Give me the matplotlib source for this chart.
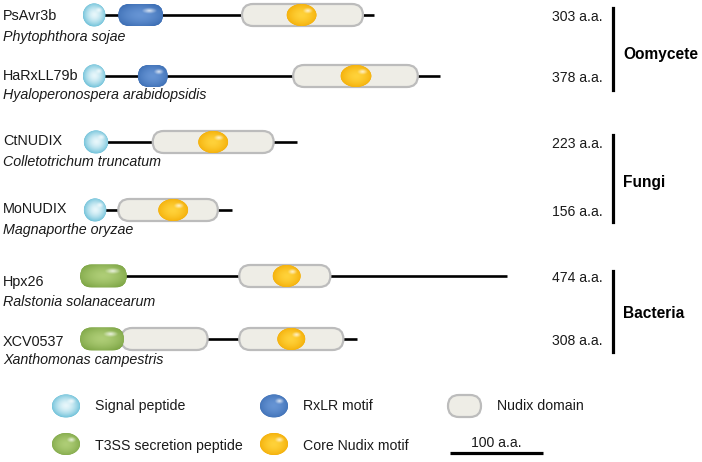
import numpy as np
import matplotlib
matplotlib.use("Agg")
import matplotlib.pyplot as plt
from matplotlib.patches import Ellipse, FancyBboxPatch
from matplotlib.colors import to_rgb

# ---------------- data (a.a. positions) ----------------
proteins = ['PsAvr3b', 'HaRxLL79b', 'CtNUDIX', 'MoNUDIX', 'Hpx26', 'XCV0537']
species = ['Phytophthora sojae', 'Hyaloperonospera arabidopsidis',
           'Colletotrichum truncatum', 'Magnaporthe oryzae',
           'Ralstonia solanacearum', 'Xanthomonas campestris']
length_labels = [303, 378, 223, 156, 474, 308]
drawn_end = [313, 384, 230, 160, 456, 295]
signal_peptide = [(0, 24), (0, 24), (1, 27), (1, 25), None, None]
rxlr_motif = [(38, 86), (59, 91), None, None, None, None]
t3ss_peptide = [None, None, None, None, (-3, 47), (-3, 44)]
nudix_domain = [[(171, 301)], [(226, 360)], [(75, 205)], [(38, 145)],
                [(168, 266)], [(41, 134), (168, 280)]]
core_motif = [(219, 251), (277, 310), (124, 156), (81, 113), (204, 234), (209, 239)]
groups = ['Oomycete', 'Fungi', 'Bacteria']
group_rows = [(0, 1), (2, 3), (4, 5)]
legend_items = ['Signal peptide', 'RxLR motif', 'Nudix domain',
                'T3SS secretion peptide', 'Core Nudix motif']
scale_len = 100

# ---------------- layout ----------------
W, H = 702, 462
X0, S = 83.0, 0.93          # pixel of a.a. 0, pixels per a.a.
row_y = [15, 76, 142, 210, 276, 339]
name_y = [16, 76, 141, 209, 282, 342]
spec_y = [37, 95, 162, 230, 302, 360]

def X(px):
    return (px - X0) / S

FONT = ['Liberation Sans', 'DejaVu Sans']
plt.rcParams['font.family'] = FONT
TXT = '#1a1a1a'

fig = plt.figure(figsize=(W / 100, H / 100), dpi=100)
ax = fig.add_axes([0, 0, 1, 1])
ax.set_xlim(X(0), X(W))
ax.set_ylim(H, 0)
ax.axis('off')

def gradient(patch, x0, x1, yc, h, edge, center, hl=True, z=3):
    n = 80
    xs = np.linspace(-1, 1, n)
    XX, YY = np.meshgrid(xs, xs)
    d = np.clip(np.sqrt(XX ** 2 + YY ** 2) / 1.2, 0, 1) ** 1.6
    e = np.array(to_rgb(edge)); c = np.array(to_rgb(center))
    img = c[None, None, :] * (1 - d[..., None]) + e[None, None, :] * d[..., None]
    if hl:
        hd = np.sqrt(((XX - 0.4) / 0.35) ** 2 + ((YY + 0.4) / 0.28) ** 2)
        a = np.clip(1 - hd, 0, 1)[..., None] * 0.8
        img = img * (1 - a) + a
    im = ax.imshow(img, extent=(x0, x1, yc + h / 2, yc - h / 2),
                   aspect='auto', zorder=z, interpolation='bilinear')
    im.set_clip_path(patch)

def ellipse(x0, x1, yc, h, edge, center, z=3):
    p = Ellipse(((x0 + x1) / 2, yc), x1 - x0, h, facecolor=edge,
                edgecolor='none', zorder=z)
    ax.add_patch(p)
    gradient(p, x0, x1, yc, h, edge, center, z=z + 0.1)

def pill(x0, x1, yc, h, edge, center, z=3):
    r = h / 2 / S
    p = FancyBboxPatch((x0, yc - h / 2), x1 - x0, h,
                       boxstyle=f"round,pad=0,rounding_size={r}",
                       mutation_aspect=S, facecolor=edge, edgecolor='none', zorder=z)
    ax.add_patch(p)
    gradient(p, x0, x1, yc, h, edge, center, z=z + 0.1)

def nudix(x0, x1, yc, h=22, z=2):
    r = h / 2 / S
    p = FancyBboxPatch((x0, yc - h / 2), x1 - x0, h,
                       boxstyle=f"round,pad=0,rounding_size={r}",
                       mutation_aspect=S, facecolor='#eeede6', edgecolor='#bcbcbc',
                       linewidth=1.6, zorder=z)
    ax.add_patch(p)

SP_C = ('#56b6d2', '#e8f7fb')
RX_C = ('#3b6db3', '#6694d4')
CO_C = ('#f2a900', '#ffd23a')
T3_C = ('#7da545', '#aecd76')

for i, name in enumerate(proteins):
    y = row_y[i]
    starts = [s[0] for s in (signal_peptide[i], t3ss_peptide[i]) if s]
    ax.plot([min(starts), drawn_end[i]], [y, y], color='black', lw=1.9,
            solid_capstyle='butt', zorder=1)
    for a, b in nudix_domain[i]:
        nudix(a, b, y)
    if signal_peptide[i]:
        ellipse(*signal_peptide[i], y, 23, *SP_C)
    if rxlr_motif[i]:
        pill(*rxlr_motif[i], y, 22, *RX_C)
    if t3ss_peptide[i]:
        pill(*t3ss_peptide[i], y, 23, *T3_C)
    ellipse(*core_motif[i], y, 22, *CO_C)
    ax.text(X(3), name_y[i], name, fontsize=10.4, va='center', ha='left', color=TXT)
    ax.text(X(3), spec_y[i], species[i], fontsize=10.3, style='italic',
            va='center', ha='left', color=TXT)
    ax.text(X(603), y + 2, f"{length_labels[i]} a.a.", fontsize=10.1,
            va='center', ha='right', color=TXT)

bar_spans = [(8, 90), (135, 222), (271, 352)]
label_y = [55, 182, 314]
for g, (a, b), ly in zip(groups, bar_spans, label_y):
    ax.plot([X(613), X(613)], [a, b], color='black', lw=2.3, zorder=1)
    ax.text(X(623), ly, g, fontsize=11.2, fontweight='bold', va='center',
            ha='left', color='black')

# legend
ellipse(X(52), X(80), 406, 23, *SP_C)
ellipse(X(260), X(288), 406, 23, *RX_C)
nudix(X(448), X(481), 406, h=22)
ellipse(X(52), X(80), 444, 22, *T3_C)
ellipse(X(260), X(288), 444, 22, *CO_C)
leg_pos = [(95, 406), (303, 406), (497, 406), (95, 446), (303, 446)]
for txt, (px, py) in zip(legend_items, leg_pos):
    ax.text(X(px), py, txt, fontsize=10.2, va='center', ha='left', color=TXT)
ax.plot([X(450), X(450) + scale_len], [453, 453], color='black', lw=2.3,
        solid_capstyle='butt')
ax.text(X(450) + scale_len / 2, 443, f"{scale_len} a.a.", fontsize=10.1,
        va='center', ha='center', color=TXT)

fig.savefig('out.png', dpi=100)
